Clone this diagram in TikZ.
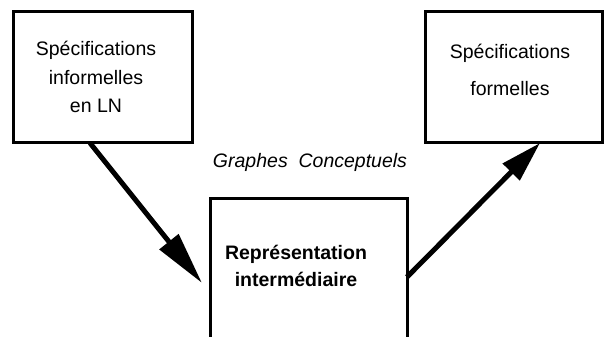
\documentclass[tikz,border=0pt]{standalone}
\usepackage{fontspec}
\setmainfont{Liberation Sans}
\usetikzlibrary{calc,arrows.meta}

\begin{document}
\begin{tikzpicture}[x=0.02cm,y=-0.02cm,
  boite/.style={draw,line width=0.06cm,inner sep=0pt,outer sep=0pt},
  texte/.style={align=center,inner sep=0pt},
  fleche/.style={line width=0.1cm}]
  \path[use as bounding box] (0,0) rectangle (604,336);
  \clip (0,0) rectangle (604,336);

  \node[boite,minimum width=3.6cm,minimum height=2.64cm] (inform) at (103,77) {};
  \node[boite,minimum width=3.56cm,minimum height=2.64cm] (formel) at (514,77) {};
  \node[boite,minimum width=3.96cm,minimum height=4.08cm] (inter) at (309,300) {};

  \node[texte,font=\fontsize{11.1}{16.1}\selectfont] (inform-txt) at (96,77) {Spécifications\\informelles\\en LN};
  \node[texte,font=\fontsize{11.1}{21.4}\selectfont] (formel-txt) at (510,70) {Spécifications\\formelles};
  \node[texte,font=\fontsize{11.1}{15.1}\selectfont\bfseries] (inter-txt) at (296,266) {Représentation\\intermédiaire};
  \node[texte,font=\fontsize{11.1}{13}\selectfont\itshape] (graphes) at (310,162) {Graphes\ \ Conceptuels};

  \coordinate (A) at ($ (inform.south) + (-13,0) $);
  \coordinate (B) at (202,283);
  \coordinate (C) at (407,277);
  \coordinate (D) at (formel.south -| 540,0);

  \draw[fleche,-{Triangle[length=1.06cm,width=0.47cm]}] (A) -- (B);
  \draw[fleche,-{Triangle[length=0.82cm,width=0.46cm]}] (C) -- (D);
\end{tikzpicture}
\end{document}
